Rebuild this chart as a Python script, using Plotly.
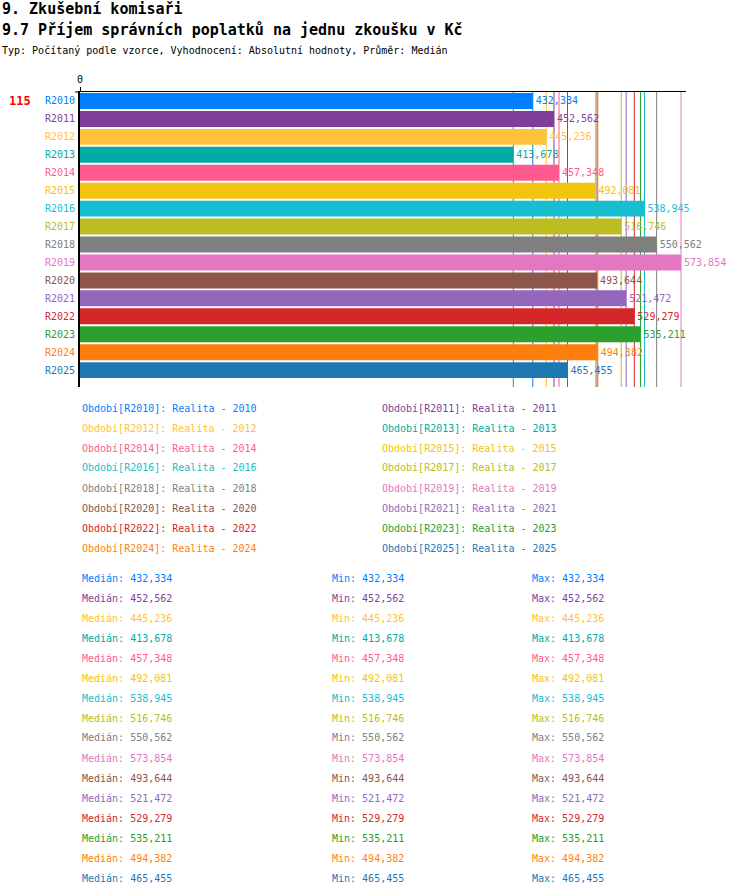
import plotly.graph_objects as go

# data
periods = ["R2010", "R2011", "R2012", "R2013", "R2014", "R2015", "R2016", "R2017",
           "R2018", "R2019", "R2020", "R2021", "R2022", "R2023", "R2024", "R2025"]
years = ["2010", "2011", "2012", "2013", "2014", "2015", "2016", "2017",
         "2018", "2019", "2020", "2021", "2022", "2023", "2024", "2025"]
values = [432334, 452562, 445236, 413678, 457348, 492081, 538945, 516746,
          550562, 573854, 493644, 521472, 529279, 535211, 494382, 465455]
colors = ["#0080ff", "#7f3f98", "#ffc23a", "#00aaa5", "#ff5a8e", "#f1c40f",
          "#17becf", "#bcbd22", "#7f7f7f", "#e377c2", "#8c564b", "#9467bd",
          "#d62728", "#2ca02c", "#ff7f0e", "#1f77b4"]
count_label = "115"

FONT = "DejaVu Sans Mono"
W, H = 750, 896
L, R, T, B = 80, 686, 92, 387   # plot area in pixels


def px(x):
    return (x - L) / (R - L)


def py(y):
    return (B - y) / (B - T)


fig = go.Figure()

fig.add_trace(go.Bar(
    y=periods,
    x=values,
    orientation="h",
    marker=dict(color=colors, line=dict(width=0)),
    text=[f"{v:,}" for v in values],
    textposition="outside",
    textfont=dict(family=FONT, size=10, color=colors),
    constraintext="none",
    cliponaxis=False,
    hoverinfo="skip",
))

shapes = []
for v, c in zip(values, colors):
    shapes.append(dict(type="line", xref="x", yref="paper", x0=v, x1=v, y0=0, y1=1,
                       line=dict(color=c, width=1), layer="below"))
# small stub left of the top axis line
shapes.append(dict(type="line", xref="paper", yref="paper", x0=px(75), x1=0, y0=1, y1=1,
                   line=dict(color="black", width=1)))

annotations = []


def note(text, x, y, color="black", size=10, bold=False, xanchor="left"):
    if bold:
        text = f"<b>{text}</b>"
    annotations.append(dict(text=text, xref="paper", yref="paper", x=px(x), y=py(y),
                            xanchor=xanchor, yanchor="middle", showarrow=False,
                            font=dict(family=FONT, size=size, color=color)))


note("9. Zkušební komisaři", 0, 9, size=15, bold=True)
note("9.7 Příjem správních poplatků na jednu zkoušku v Kč", 0, 30, size=15, bold=True)
note("Typ: Počítaný podle vzorce, Vyhodnocení: Absolutní hodnoty, Průměr: Medián", 0, 51, size=10)

# period labels on the left, coloured like their bars
for p, c in zip(periods, colors):
    annotations.append(dict(text=p, xref="paper", yref="y", x=px(77), y=p,
                            xanchor="right", yanchor="middle", showarrow=False,
                            font=dict(family=FONT, size=10, color=c)))
annotations.append(dict(text=f"<b>{count_label}</b>", xref="paper", yref="y", x=px(20), y=periods[0],
                        xanchor="center", yanchor="middle", showarrow=False,
                        font=dict(family=FONT, size=12, color="#ff0000")))

# legend block, two columns
for i, (p, yr, c) in enumerate(zip(periods, years, colors)):
    col, row = i % 2, i // 2
    note(f"Období[{p}]: Realita - {yr}", 80 + col * 300, 408 + row * 20, color=c)

# stats block
for i, (v, c) in enumerate(zip(values, colors)):
    y = 578 + i * 20
    note(f"Medián: {v:,}", 80, y, color=c)
    note(f"Min: {v:,}", 330, y, color=c)
    note(f"Max: {v:,}", 530, y, color=c)

fig.update_layout(
    width=W, height=H,
    margin=dict(l=L, r=W - R, t=T, b=H - B, autoexpand=False),
    paper_bgcolor="white", plot_bgcolor="white",
    showlegend=False,
    bargap=0.11,
    shapes=shapes,
    annotations=annotations,
    font=dict(family=FONT, size=10, color="black"),
    xaxis=dict(side="top", range=[0, 578600], tickvals=[0], ticktext=["0"],
               ticks="outside", ticklen=4, tickcolor="black",
               showline=True, linecolor="black", linewidth=1,
               showgrid=False, zeroline=False, fixedrange=True,
               tickfont=dict(family=FONT, size=10, color="black")),
    yaxis=dict(type="category", range=[15.94, -0.5], showticklabels=False,
               showline=True, linecolor="black", linewidth=2,
               showgrid=False, zeroline=False, ticks="", fixedrange=True),
)

# drop the browser's default body margin so the figure sits at the page corner
fig.write_html("out.html", config={"displayModeBar": False},
               post_script="document.body.style.margin='0';document.body.style.overflow='hidden';")
